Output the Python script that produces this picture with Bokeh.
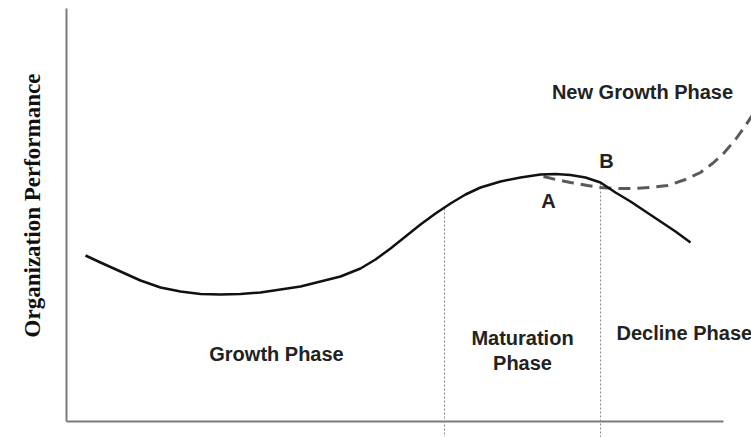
import math
from bokeh.plotting import figure
from bokeh.models import Range1d
from bokeh.core.properties import value
from bokeh.embed import file_html
from bokeh.resources import INLINE

# ---- data (time from origin, performance from baseline) ----
main_t = [19, 34, 54, 74, 94, 114, 134, 154, 174, 194, 214, 234, 254, 274, 294, 309, 324,
          339, 354, 369, 384, 399, 414, 434, 454, 474, 489, 504, 519, 534, 549, 564, 579,
          594, 609, 624]
main_perf = [166, 159, 150, 141, 134, 130, 127.5, 127, 127.5, 129, 132, 135, 140, 145, 153,
             162, 173, 185, 197, 208, 218, 227, 234, 240, 244, 247, 247.5, 246.5, 244, 239,
             229, 220, 210, 200, 190, 179]

new_t = [477, 489, 504, 521, 534, 549, 567, 584, 601, 619, 634, 646, 657, 669, 679, 689, 699]
new_perf = [245, 242, 239, 236, 234, 233, 233, 234, 236, 242, 249, 258, 268, 282, 296, 311, 326]

phase_bounds_t = [378, 534]
phase_bounds_top = [213, 238]

axis_x_end = 657
axis_y_end = 413

labels = ["New Growth Phase", "B", "A", "Growth Phase", "Maturation", "Phase", "Decline Phase"]
label_t = [576, 540, 482, 210, 456, 456, 550]
label_perf = [330, 261, 221, 68, 84, 59, 89]
label_align = ["center", "center", "center", "center", "center", "center", "left"]

y_label = "Organization Performance"

# ---- figure ----
p = figure(width=751, height=437, output_backend="svg", toolbar_location=None,
           x_range=Range1d(-66, 685), y_range=Range1d(-16, 421),
           min_border=0, min_border_left=0, min_border_right=0,
           min_border_top=0, min_border_bottom=0)
p.xaxis.visible = False
p.yaxis.visible = False
p.xgrid.visible = False
p.ygrid.visible = False
p.outline_line_color = None
p.background_fill_color = "white"
p.border_fill_color = "white"

# axes drawn as lines
p.line([0, 0], [0, axis_y_end], line_color="#7a7a7a", line_width=2)
p.line([0, axis_x_end], [0, 0], line_color="#7a7a7a", line_width=2)

# phase boundaries
for t, top in zip(phase_bounds_t, phase_bounds_top):
    p.line([t, t], [top, -30], line_color="#8a8a8a", line_width=1, line_dash="2 2")

# curves
p.line(new_t, new_perf, line_color="#5a5a5a", line_width=3, line_dash="12 7")
p.line(main_t, main_perf, line_color="#111111", line_width=2.5, line_join="round")

# labels
for lab, t, v, al in zip(labels, label_t, label_perf, label_align):
    p.text(x=[t], y=[v], text=[lab], text_align=al, text_baseline="alphabetic",
           text_font=value("Liberation Sans"), text_font_style="bold",
           text_font_size=value("20px"), text_color="#222222")

p.text(x=[-34], y=[216], text=[y_label], angle=math.pi / 2,
       text_align="center", text_baseline="alphabetic",
       text_font=value("Liberation Serif"), text_font_style="bold",
       text_font_size=value("23px"), text_color="#111111")

open("out.html", "w").write(file_html(p, INLINE))
